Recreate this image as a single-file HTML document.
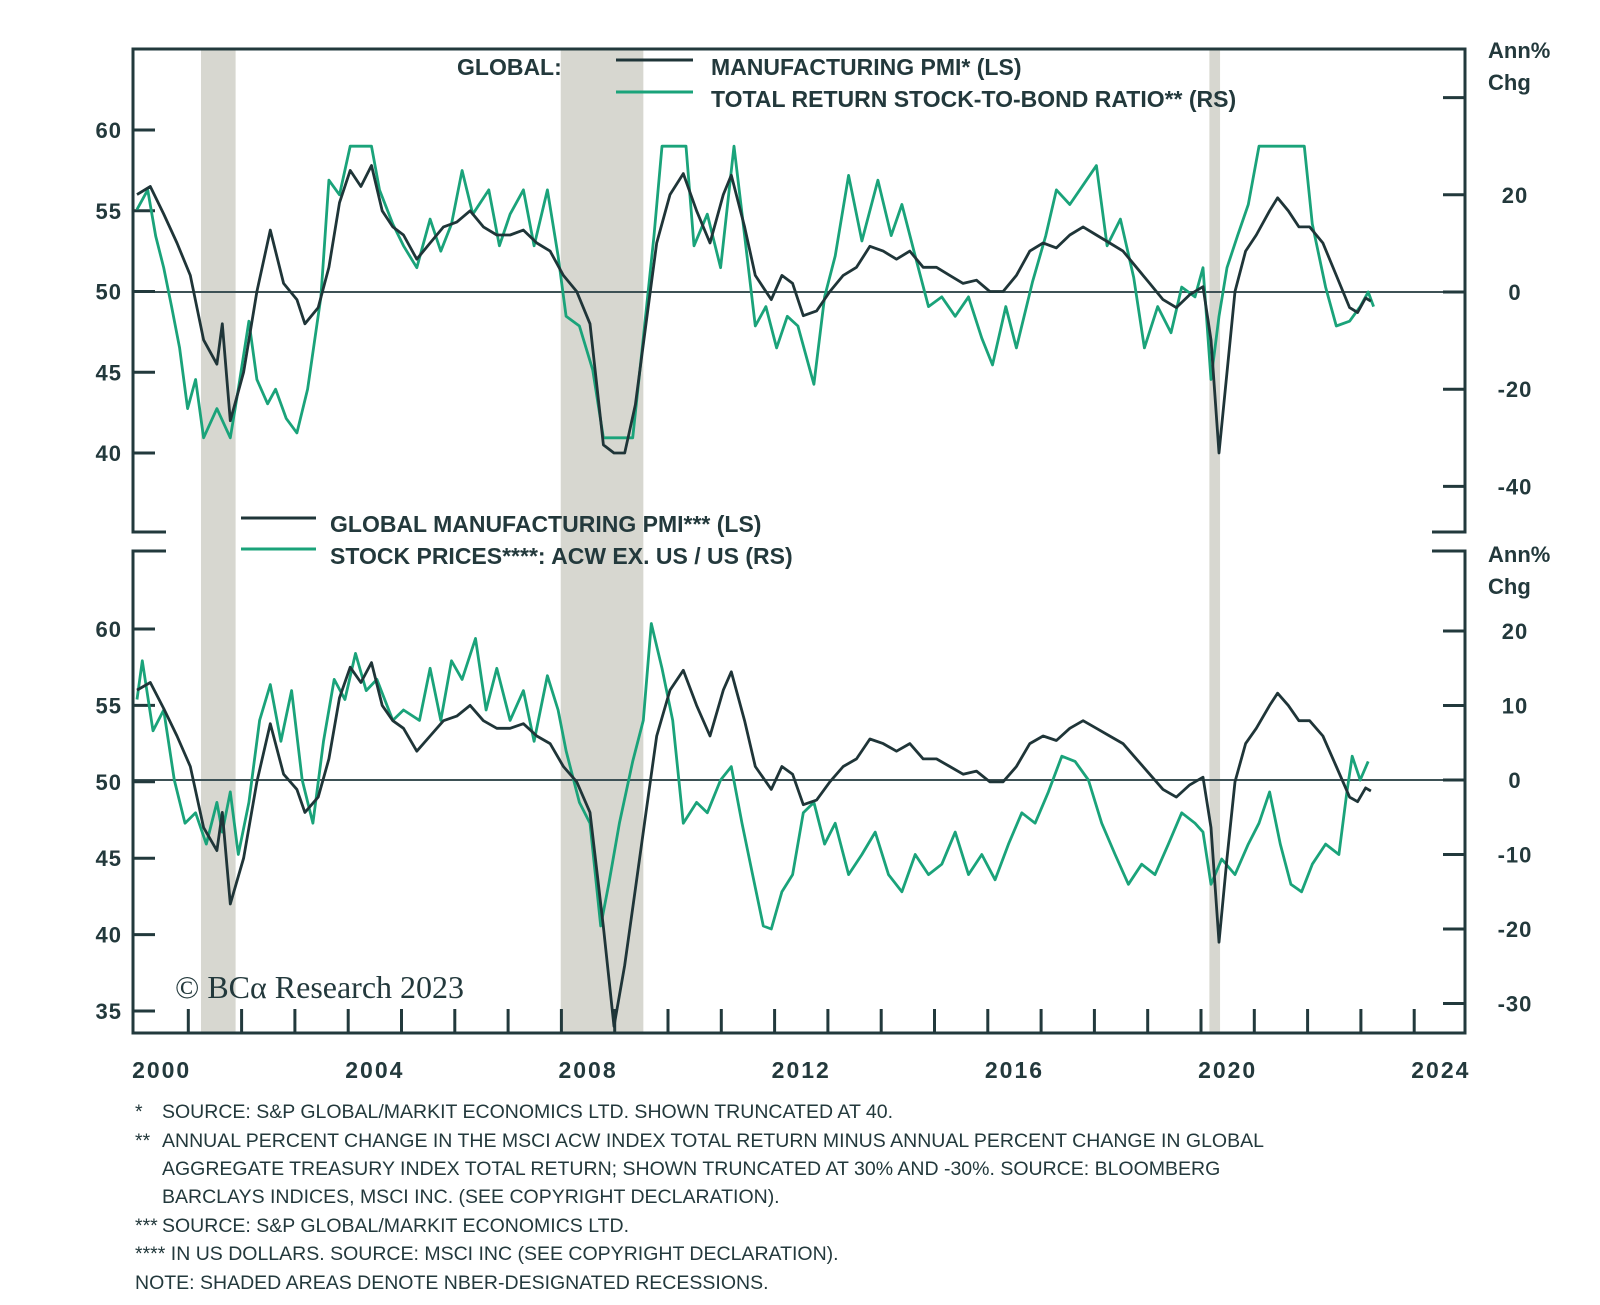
<!DOCTYPE html>
<html><head><meta charset="utf-8"><style>
body{margin:0;background:#fff;width:1600px;height:1305px;overflow:hidden;font-family:"Liberation Sans",sans-serif}
svg{display:block}
.t{font-family:"Liberation Sans",sans-serif;font-weight:bold;fill:#23393c}
.lg{font-size:23px}
.fn{font-family:"Liberation Sans",sans-serif;font-size:19.5px;fill:#23393c}
</style></head><body>
<svg id="chart" width="1600" height="1305" xmlns="http://www.w3.org/2000/svg">
<g id="shades"></g>
<g id="frame"></g>
<g id="series"></g>
<g>
<text class="t lg" x="457" y="75">GLOBAL:</text>
<line x1="616" y1="60" x2="693" y2="60" stroke="#1f3538" stroke-width="3"/>
<text class="t lg" x="711" y="75">MANUFACTURING PMI* (LS)</text>
<line x1="616" y1="92" x2="693" y2="92" stroke="#1aa37a" stroke-width="3"/>
<text class="t lg" x="711" y="107">TOTAL RETURN STOCK-TO-BOND RATIO** (RS)</text>
</g>
<g>
<line x1="241" y1="518" x2="316" y2="518" stroke="#1f3538" stroke-width="3"/>
<text class="t lg" x="330" y="532">GLOBAL MANUFACTURING PMI*** (LS)</text>
<line x1="241" y1="549" x2="316" y2="549" stroke="#1aa37a" stroke-width="3"/>
<text class="t lg" x="330" y="564">STOCK PRICES****: ACW EX. US / US (RS)</text>
</g>
<text class="t" x="1488" y="58" font-size="22">Ann%</text>
<text class="t" x="1488" y="90" font-size="22">Chg</text>
<text class="t" x="1488" y="562" font-size="22">Ann%</text>
<text class="t" x="1488" y="594" font-size="22">Chg</text>
<text x="175" y="998" font-family="Liberation Serif,serif" font-size="32" fill="#23393c">© BCα Research 2023</text>
<g>
<text class="fn" x="135" y="1118">*</text><text class="fn" x="162" y="1118">SOURCE: S&amp;P GLOBAL/MARKIT ECONOMICS LTD. SHOWN TRUNCATED AT 40.</text>
<text class="fn" x="135" y="1147">**</text><text class="fn" x="162" y="1147">ANNUAL PERCENT CHANGE IN THE MSCI ACW INDEX TOTAL RETURN MINUS ANNUAL PERCENT CHANGE IN GLOBAL</text>
<text class="fn" x="162" y="1175">AGGREGATE TREASURY INDEX TOTAL RETURN; SHOWN TRUNCATED AT 30% AND -30%. SOURCE: BLOOMBERG</text>
<text class="fn" x="162" y="1203">BARCLAYS INDICES, MSCI INC. (SEE COPYRIGHT DECLARATION).</text>
<text class="fn" x="135" y="1232">***</text><text class="fn" x="162" y="1232">SOURCE: S&amp;P GLOBAL/MARKIT ECONOMICS LTD.</text>
<text class="fn" x="135" y="1260">**** IN US DOLLARS. SOURCE: MSCI INC (SEE COPYRIGHT DECLARATION).</text>
<text class="fn" x="135" y="1289">NOTE: SHADED AREAS DENOTE NBER-DESIGNATED RECESSIONS.</text>
</g>
</svg>
<script>
const pmiYears=[2000,2000.25,2000.5,2000.75,2001,2001.25,2001.5,2001.6,2001.75,2002,2002.25,2002.5,2002.75,2003,2003.15,2003.4,2003.6,2003.8,2004,2004.2,2004.4,2004.6,2004.8,2005,2005.25,2005.5,2005.75,2006,2006.25,2006.5,2006.75,2007,2007.25,2007.5,2007.75,2008,2008.25,2008.5,2008.75,2008.95,2009.15,2009.35,2009.55,2009.75,2010,2010.25,2010.5,2010.75,2011,2011.15,2011.4,2011.6,2011.9,2012.1,2012.3,2012.5,2012.75,2013,2013.25,2013.5,2013.75,2014,2014.25,2014.5,2014.75,2015,2015.25,2015.5,2015.75,2016,2016.25,2016.5,2016.75,2017,2017.25,2017.5,2017.75,2018,2018.25,2018.5,2018.75,2019,2019.25,2019.5,2019.75,2020,2020.15,2020.3,2020.45,2020.6,2020.8,2021,2021.25,2021.4,2021.6,2021.8,2022,2022.25,2022.5,2022.75,2022.9,2023.05,2023.15];
const pmiValues=[56,56.5,54.8,53,51,47,45.5,48,42,45,50,53.8,50.5,49.5,48,49,51.5,55.5,57.5,56.5,57.8,55,54,53.5,52,53,54,54.3,55,54,53.5,53.5,53.8,53,52.5,51,50,48,40.5,34,38,43,48,53,56,57.3,55,53,56,57.2,54,51,49.5,51,50.5,48.5,48.8,50,51,51.5,52.8,52.5,52,52.5,51.5,51.5,51,50.5,50.7,50,50,51,52.5,53,52.7,53.5,54,53.5,53,52.5,51.5,50.5,49.5,49,49.8,50.3,47,39.5,45,50,52.5,53.5,55,55.8,55,54,54,53,51,49,48.7,49.6,49.4];
const ratioYears=[2000,2000.2,2000.35,2000.5,2000.65,2000.8,2000.95,2001.1,2001.25,2001.5,2001.75,2001.9,2002.1,2002.25,2002.45,2002.6,2002.8,2003,2003.2,2003.45,2003.6,2003.8,2004,2004.4,2004.55,2004.8,2005,2005.25,2005.5,2005.7,2005.9,2006.1,2006.3,2006.6,2006.8,2007,2007.25,2007.45,2007.7,2007.9,2008.05,2008.3,2008.55,2008.75,2009.3,2009.5,2009.7,2009.85,2010.3,2010.45,2010.7,2010.95,2011.2,2011.4,2011.6,2011.8,2012,2012.2,2012.4,2012.7,2012.9,2013.1,2013.35,2013.6,2013.9,2014.15,2014.35,2014.6,2014.85,2015.1,2015.35,2015.6,2015.85,2016.05,2016.3,2016.5,2016.8,2017.05,2017.25,2017.5,2017.75,2018,2018.2,2018.45,2018.7,2018.9,2019.15,2019.4,2019.6,2019.85,2020,2020.15,2020.3,2020.45,2020.65,2020.85,2021.05,2021.9,2022.05,2022.3,2022.5,2022.75,2022.95,2023.1,2023.2];
const ratioValues=[17,21,11.5,5,-3,-11.5,-24,-18,-30,-24,-30,-20,-6,-18,-23,-20,-26,-29,-20,-1,23,20,30,30,21,14,9.5,5,15,8.4,14,25,16,21,9.5,16,21,9.5,21,7.4,-5,-7,-16,-30,-30,-9.5,11.6,30,30,9.5,16,5,30,11.6,-7,-3,-11.5,-5,-7,-19,-1,7.4,24,10.5,23,11.6,18,7.4,-3,-1,-5,-1,-9.5,-15,-3,-11.5,2,11.6,21,18,22,26,9.5,15,3,-11.5,-3,-8.4,1,-1,5,-18,-5,5,11.6,18,30,30,14,1,-7,-6,-3,0,-3];
const stockYears=[2000,2000.1,2000.3,2000.5,2000.7,2000.9,2001.1,2001.3,2001.5,2001.6,2001.75,2001.9,2002.1,2002.3,2002.5,2002.7,2002.9,2003.1,2003.3,2003.5,2003.7,2003.9,2004.1,2004.3,2004.5,2004.8,2005,2005.3,2005.5,2005.7,2005.9,2006.1,2006.35,2006.55,2006.75,2007,2007.25,2007.45,2007.7,2007.9,2008.05,2008.3,2008.5,2008.7,2008.85,2009.05,2009.3,2009.5,2009.65,2009.85,2010.05,2010.25,2010.5,2010.7,2010.95,2011.15,2011.35,2011.55,2011.75,2011.9,2012.1,2012.3,2012.5,2012.7,2012.9,2013.1,2013.35,2013.6,2013.85,2014.1,2014.35,2014.6,2014.85,2015.1,2015.35,2015.6,2015.85,2016.1,2016.35,2016.6,2016.85,2017.1,2017.35,2017.6,2017.85,2018.1,2018.35,2018.6,2018.85,2019.1,2019.35,2019.6,2019.85,2020,2020.15,2020.35,2020.6,2020.85,2021.05,2021.25,2021.45,2021.65,2021.85,2022.05,2022.3,2022.55,2022.7,2022.8,2022.95,2023.1];
const stockValues=[10.8,16,6.6,9.4,0,-5.8,-4.4,-8.6,-3,-7,-1.6,-10,-3,8,12.8,5.2,12,0,-5.8,5.2,13.5,10.8,17,12,13.5,8,9.4,8,15,8,16,13.5,19,9.4,15,8,12,5.2,14,9.4,3.9,-3,-5.8,-19.6,-14,-5.8,2.5,8,21,15,8,-5.8,-3,-4.4,0,1.8,-5.8,-12.7,-19.6,-20,-15,-12.7,-4.4,-3,-8.6,-5.8,-12.7,-10,-7,-12.7,-15,-10,-12.7,-11.3,-7,-12.7,-10,-13.4,-8.6,-4.4,-5.8,-1.6,3.2,2.5,0,-5.8,-10,-14,-11.3,-12.7,-8.6,-4.4,-5.8,-7,-14,-10.6,-12.7,-8.6,-5.8,-1.6,-8.6,-14,-15,-11.3,-8.6,-10,-1.6,3.2,0,2.5];
const recessions=[[2001.2,2001.85],[2007.95,2009.5],[2020.12,2020.32]];
const topLeftTicks=[40,45,50,55,60];
const topRightTicks=[-40,-20,0,20,40];
const topRightLabels=["-40","-20","0","20",""];
const botLeftTicks=[35,40,45,50,55,60];
const botRightTicks=[-30,-20,-10,0,10,20];
const yearLabels=[2000,2004,2008,2012,2016,2020,2024];

const L=133,R=1465,T1=49,B1=532,T2=551,B2=1033;
const NS='http://www.w3.org/2000/svg';
const x=y=>137+53.3*(y-2000);
const yTL=v=>130+(60-v)*16.15;
const yTR=v=>292-v*4.86;
const yBL=v=>629+(60-v)*15.28;
const yBR=v=>780-v*7.45;
const DARK='#22393c';
function mk(tag,attrs,parent){const e=document.createElementNS(NS,tag);for(const k in attrs)e.setAttribute(k,attrs[k]);parent.appendChild(e);return e;}
const shades=document.getElementById('shades'),frame=document.getElementById('frame'),series=document.getElementById('series');
recessions.forEach(r=>{
 const a=mk('rect',{x:x(r[0]),y:T1,width:x(r[1])-x(r[0]),height:B2-T1,fill:'#d7d7d0'},shades);
 
 
});
[yTR(0),yBR(0)].forEach(z=>{const l=mk('line',{x1:L,x2:R,y1:z,y2:z,stroke:'#3d5155','stroke-width':2},frame);
 
 });
const fr=mk('path',{d:`M${L+33},${B1}H${L}V${T1}H${R}V${B1}H${R-33} M${L+33},${T2}H${L}V${B2}H${R}V${T2}H${R-33}`,fill:'none',stroke:DARK,'stroke-width':3},frame);


function tick(x1,y1,x2,y2,name){const t=mk('line',{x1,y1,x2,y2,stroke:DARK,'stroke-width':3},frame);
 
 }
function label(tx,ty,s,anchor,name,fs,ls){const t=mk('text',{x:tx,y:ty,'text-anchor':anchor,'font-size':fs||22,'letter-spacing':ls||1,class:'t'},frame);t.textContent=s;
 
 }
topLeftTicks.forEach(v=>{const yy=yTL(v);tick(L,yy,L+22,yy,'left-tick');label(122,yy+8,v,'end','top-left-tick-label');});
topRightTicks.forEach((v,i)=>{const yy=yTR(v);tick(R-22,yy,R,yy,'right-tick');if(topRightLabels[i])label(1515,yy+8,topRightLabels[i],'middle','top-right-tick-label');});
botLeftTicks.forEach(v=>{const yy=yBL(v);tick(L,yy,L+22,yy,'left-tick');label(122,yy+8,v,'end','bottom-left-tick-label');});
botRightTicks.forEach(v=>{const yy=yBR(v);tick(R-22,yy,R,yy,'right-tick');label(1515,yy+8,v,'middle','bottom-right-tick-label');});
for(let yr=2001;yr<=2024;yr++){const xx=135+53.3*(yr-2000);if(xx<R-2)tick(xx,B2-24,xx,B2,'x-tick');}
yearLabels.forEach(yr=>label(135+53.3*(yr-2000+0.5),1078,yr,'middle','x-tick-label',23,2));
function line(xs,vs,fy,lo,hi,color,name){
 const d=xs.map((yr,i)=>(i?'L':'M')+x(yr).toFixed(1)+','+fy(Math.max(lo,Math.min(hi,vs[i]))).toFixed(1)).join('');
 const p=mk('path',{d,fill:'none',stroke:color,'stroke-width':2.8,'stroke-linejoin':'round'},series);
 
 
}
line(ratioYears,ratioValues,yTR,-30,30,'#1aa37a','stock-to-bond-ratio-line');
line(pmiYears,pmiValues,yTL,40,100,'#1f3538','top-pmi-line');
line(stockYears,stockValues,yBR,-100,100,'#1aa37a','acw-ex-us-line');
line(pmiYears,pmiValues,yBL,0,100,'#1f3538','bottom-pmi-line');
</script>
</body></html>
